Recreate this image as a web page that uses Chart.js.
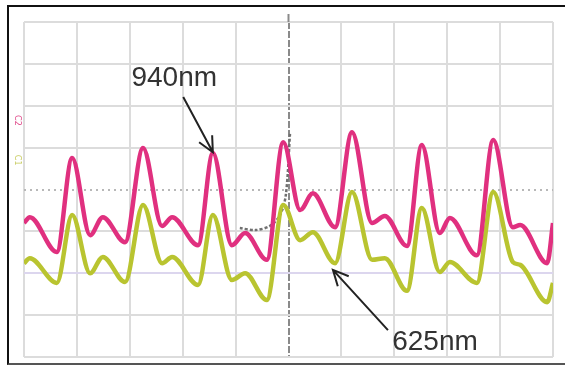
<!DOCTYPE html>
<html>
<head>
<meta charset="utf-8">
<script src="https://cdn.jsdelivr.net/npm/chart.js@4.4.1/dist/chart.umd.min.js"></script>
<style>
  body { margin: 0; background: #fff; overflow: hidden; }
  #wrap { position: relative; width: 565px; height: 366px; overflow: hidden; }
  #frame { position: absolute; left: 7px; top: 5px; right: -10px; bottom: 1px;
           border-top: 2px solid #111; border-left: 2px solid #111; border-bottom: 2px solid #555; }
  canvas { position: absolute; left: 0; top: 0; }
</style>
</head>
<body>
<div id="wrap">
  <div id="frame"></div>
  <canvas id="chart" width="565" height="366"></canvas>
</div>
<script>
// time in screen divisions (0..10), amplitude in divisions (0..8)
const times = [0, 0.11, 0.62, 0.91, 1.25, 1.49, 1.91, 2.25, 2.61, 2.80, 3.29, 3.57, 3.93, 4.18, 4.59, 4.90,
               5.22, 5.46, 5.88, 6.20, 6.58, 6.82, 7.24, 7.52, 7.86, 8.05, 8.56, 8.87, 9.24, 9.38, 9.89, 10];
const nm940 = [3.20, 3.34, 2.51, 4.75, 2.91, 3.34, 2.74, 4.99, 3.13, 3.34, 2.67, 4.87, 2.67, 2.96, 2.32, 5.13,
               3.51, 3.91, 3.10, 5.37, 3.20, 3.37, 2.65, 5.06, 2.96, 3.32, 2.43, 5.18, 3.10, 3.15, 2.24, 3.20];
const nm625 = [2.24, 2.36, 1.77, 3.39, 2.00, 2.39, 1.79, 3.63, 2.24, 2.39, 1.72, 3.39, 1.84, 2.00, 1.36, 3.63,
               2.79, 2.98, 2.24, 3.94, 2.32, 2.36, 1.58, 3.56, 2.03, 2.27, 1.77, 3.94, 2.27, 2.20, 1.31, 1.77];
// trigger marker trace near the centre
const trigTimes = [4.08, 4.37, 4.65, 4.84, 4.95, 5.03];
const trigLevel = [3.08, 3.03, 3.13, 3.39, 3.87, 5.37];

// labels with arrow tail/tip in divisions
const notes = [
  { text: '940nm', tx: 2.84, ty: 6.47, from: [3.01, 6.21], to: [3.57, 4.89] },
  { text: '625nm', tx: 7.77, ty: 0.17, from: [6.88, 0.64], to: [5.84, 2.08] }
];
const chLabels = [
  { text: 'C2', y: 5.65, color: '#e04a8a' },
  { text: 'C1', y: 4.7, color: '#c8cc60' }
];

function pts(xs, ys) {
  return xs.map((x, i) => ({ x: x, y: ys[i] }));
}

const notesPlugin = {
  id: 'notes',
  afterDatasetsDraw(chart) {
    const ctx = chart.ctx;
    const sx = chart.scales.x, sy = chart.scales.y;
    ctx.save();
    // centre cursor runs a little above the graticule
    const cx = sx.getPixelForValue(5);
    ctx.strokeStyle = '#8a8a8a';
    ctx.lineWidth = 2;
    ctx.beginPath();
    ctx.moveTo(cx, chart.chartArea.top - 8);
    ctx.lineTo(cx, chart.chartArea.top);
    ctx.stroke();

    notes.forEach(n => {
      ctx.fillStyle = '#333';
      ctx.font = '28px "Liberation Sans", Arial, sans-serif';
      ctx.textAlign = 'center';
      ctx.textBaseline = 'alphabetic';
      ctx.fillText(n.text, sx.getPixelForValue(n.tx), sy.getPixelForValue(n.ty));
      const x1 = sx.getPixelForValue(n.from[0]), y1 = sy.getPixelForValue(n.from[1]);
      const x2 = sx.getPixelForValue(n.to[0]), y2 = sy.getPixelForValue(n.to[1]);
      ctx.strokeStyle = '#222';
      ctx.lineWidth = 2;
      ctx.beginPath();
      ctx.moveTo(x1, y1);
      ctx.lineTo(x2, y2);
      const a = Math.atan2(y2 - y1, x2 - x1);
      const h = 17;
      ctx.moveTo(x2 - h * Math.cos(a - 0.45), y2 - h * Math.sin(a - 0.45));
      ctx.lineTo(x2, y2);
      ctx.lineTo(x2 - h * Math.cos(a + 0.45), y2 - h * Math.sin(a + 0.45));
      ctx.stroke();
    });
    chLabels.forEach(l => {
      ctx.save();
      ctx.translate(17, sy.getPixelForValue(l.y));
      ctx.rotate(Math.PI / 2);
      ctx.fillStyle = l.color;
      ctx.font = '8px "DejaVu Sans", sans-serif';
      ctx.textAlign = 'center';
      ctx.textBaseline = 'middle';
      ctx.fillText(l.text, 0, 0);
      ctx.restore();
    });
    ctx.restore();
  }
};

new Chart(document.getElementById('chart'), {
  type: 'line',
  data: {
    datasets: [{
      label: '940nm',
      data: pts(times, nm940),
      borderColor: '#e0307f',
      borderWidth: 4.5,
      pointRadius: 0,
      cubicInterpolationMode: 'monotone'
    }, {
      label: '625nm',
      data: pts(times, nm625),
      borderColor: '#b9c430',
      borderWidth: 4.5,
      pointRadius: 0,
      cubicInterpolationMode: 'monotone'
    }, {
      label: 'trigger',
      data: pts(trigTimes, trigLevel),
      borderColor: '#707070',
      borderWidth: 2.5,
      borderDash: [3, 2],
      pointRadius: 0,
      tension: 0.3
    }]
  },
  options: {
    responsive: false,
    animation: false,
    layout: { padding: { left: 24, right: 12, top: 22, bottom: 9 } },
    plugins: { legend: { display: false }, tooltip: { enabled: false } },
    scales: {
      x: {
        type: 'linear', min: 0, max: 10,
        ticks: { display: false, stepSize: 1 },
        grid: {
          drawTicks: false,
          lineWidth: 2,
          color: c => c.tick && c.tick.value === 5 ? '#8a8a8a' : '#dcdcdc'
        },
        border: { display: false, dash: c => c.tick && c.tick.value === 5 ? [7, 2] : [] }
      },
      y: {
        type: 'linear', min: 0, max: 8,
        ticks: { display: false, stepSize: 1 },
        grid: {
          drawTicks: false,
          lineWidth: 2,
          color: c => {
            if (!c.tick) return '#dcdcdc';
            if (c.tick.value === 4) return '#b8b8b8';
            if (c.tick.value === 2) return '#dcd6ee';
            return '#dcdcdc';
          }
        },
        border: { display: false, dash: c => c.tick && c.tick.value === 4 ? [2, 4] : [] }
      }
    }
  },
  plugins: [notesPlugin]
});
</script>
</body>
</html>
